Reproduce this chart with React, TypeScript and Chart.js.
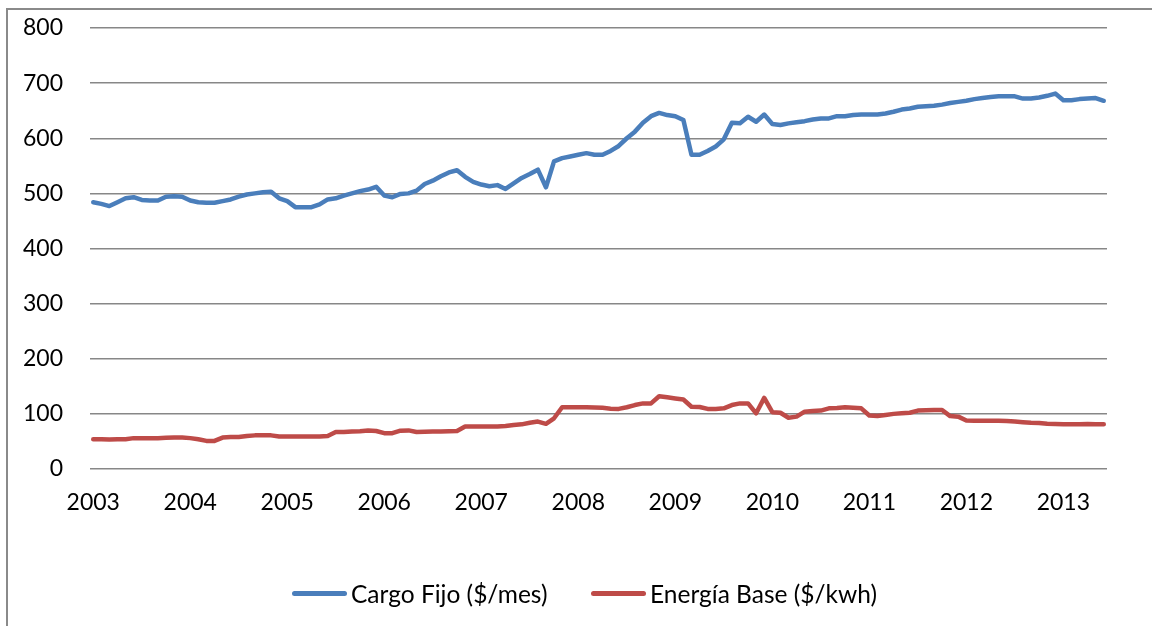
import React, { useEffect, useRef } from "react";
import { Chart, registerables } from "chart.js";

Chart.register(...registerables);

// Monthly series, January 2003 through June 2013
const startYear = 2003;
const yearTicks = [2003, 2004, 2005, 2006, 2007, 2008, 2009, 2010, 2011, 2012, 2013];

const cargoFijo = [
  484, 481, 477, 484, 491, 493, 488, 487, 487, 494, 495, 494,
  487, 484, 483, 483, 486, 489, 494, 498, 500, 502, 503, 491,
  486, 475, 475, 475, 480, 489, 491, 496, 500, 504, 507, 512,
  496, 493, 499, 500, 505, 517, 523, 531, 538, 542, 530, 521,
  516, 513, 515, 508, 518, 528, 535, 543, 511, 558, 564, 567,
  570, 573, 570, 570, 577, 586, 600, 612, 628, 640, 646, 642,
  640, 633, 570, 570, 577, 585, 598, 628, 627, 639, 630, 643,
  626, 624, 627, 629, 631, 634, 636, 636, 640, 640, 642, 643,
  643, 643, 645, 648, 652, 654, 657, 658, 659, 661, 664, 666,
  668, 671, 673, 675, 676, 676, 676, 672, 672, 674, 677, 681,
  669, 669, 671, 672, 673, 668,
];

const energiaBase = [
  54, 54, 53.5, 54, 54, 56, 56, 56, 56, 56.5, 57, 57,
  56, 54, 51, 51, 57, 58, 58, 60, 61, 61, 61, 59,
  59, 59, 59, 59, 59, 60, 67, 67, 68, 68.5, 70, 69,
  65, 65, 69.5, 70, 67, 67.5, 68, 68, 68.5, 69, 77, 77,
  77, 77, 77, 78, 80, 81, 84, 86, 82, 92, 112, 112,
  112, 112, 111.5, 111, 109.5, 109, 112, 116, 119, 119, 132, 130,
  128, 126, 113, 112.5, 109, 109, 110, 116, 119, 119, 101, 129,
  103, 102, 93, 95, 104, 105, 106, 110, 110.5, 112, 111, 110,
  97, 96, 98, 100, 101, 102, 106, 106.5, 107, 107, 96, 95,
  88, 87.5, 87.5, 87.5, 87.5, 87, 86, 85, 84, 83.5, 82, 81.5,
  81, 81, 81, 81.5, 81, 81,
];

const seriesNames = ["Cargo Fijo ($/mes)", "Energía Base ($/kwh)"];
const seriesColors = ["#4a7ebb", "#be4b48"];

const FONT = "Lato, 'Noto Sans', sans-serif";

// Fixed plot-area edges, in canvas pixels
const PLOT = { left: 90, top: 28, right: 1107, bottom: 469 };

export default function App() {
  const canvasRef = useRef<HTMLCanvasElement | null>(null);

  useEffect(() => {
    const canvas = canvasRef.current;
    if (!canvas) return;
    const toPoints = (arr: number[]) => arr.map((v, i) => ({ x: i, y: v }));
    const chart = new Chart(canvas, {
      type: "line",
      data: {
        datasets: [cargoFijo, energiaBase].map((arr, k) => ({
          label: seriesNames[k],
          data: toPoints(arr),
          borderColor: seriesColors[k],
          backgroundColor: seriesColors[k],
          borderWidth: 4.5,
          pointRadius: 0,
          borderCapStyle: "round" as const,
          borderJoinStyle: "round" as const,
          tension: 0,
        })),
      },
      options: {
        animation: false,
        responsive: false,
        maintainAspectRatio: false,
        layout: {
          padding: { left: 0, top: PLOT.top, right: 1152 - PLOT.right, bottom: 0 },
        },
        plugins: { legend: { display: false }, tooltip: { enabled: false } },
        scales: {
          x: {
            type: "linear",
            min: -0.4,
            max: cargoFijo.length - 1 + 0.4,
            grid: { display: false, drawTicks: false },
            border: { display: false },
            afterBuildTicks: (scale: any) => {
              scale.ticks = yearTicks.map((y) => ({ value: (y - startYear) * 12 }));
            },
            afterFit: (scale: any) => {
              scale.height = 626 - PLOT.bottom;
              scale.paddingLeft = 0;
              scale.paddingRight = 0;
            },
            ticks: {
              autoSkip: false,
              maxRotation: 0,
              padding: 20,
              color: "#000",
              font: { family: FONT, size: 23 },
              callback: (v: any) => String(startYear + Math.round(Number(v) / 12)),
            },
          },
          y: {
            min: 0,
            max: 800,
            grid: { color: "#878787", lineWidth: 1.5, drawTicks: false },
            border: { display: false },
            afterFit: (scale: any) => {
              scale.width = PLOT.left;
              scale.paddingTop = 0;
              scale.paddingBottom = 0;
            },
            ticks: {
              stepSize: 100,
              padding: 27,
              color: "#000",
              font: { family: FONT, size: 23 },
            },
          },
        },
      },
    });
    return () => chart.destroy();
  }, []);

  const legendItem = (k: number, left: number) => (
    <div
      key={k}
      style={{
        position: "absolute",
        left,
        top: 576,
        height: 34,
        display: "flex",
        alignItems: "center",
        fontFamily: FONT,
        fontSize: 24.5,
        color: "#000",
        whiteSpace: "nowrap",
      }}
    >
      <span
        style={{
          display: "inline-block",
          width: 55,
          height: 5,
          borderRadius: 3,
          background: seriesColors[k],
          marginRight: 4,
        }}
      />
      <span>{seriesNames[k]}</span>
    </div>
  );

  return (
    <div
      style={{
        position: "fixed",
        left: 0,
        top: 0,
        width: 1152,
        height: 626,
        overflow: "hidden",
        background: "#fff",
      }}
    >
      <div
        style={{
          position: "absolute",
          left: 6,
          top: 8,
          width: 1300,
          height: 800,
          borderLeft: "2px solid #8a8a8a",
          borderTop: "2px solid #8a8a8a",
        }}
      />
      <canvas
        ref={canvasRef}
        width={1152}
        height={626}
        style={{ position: "absolute", left: 0, top: 0, width: 1152, height: 626 }}
      />
      {legendItem(0, 292)}
      {legendItem(1, 591)}
    </div>
  );
}
